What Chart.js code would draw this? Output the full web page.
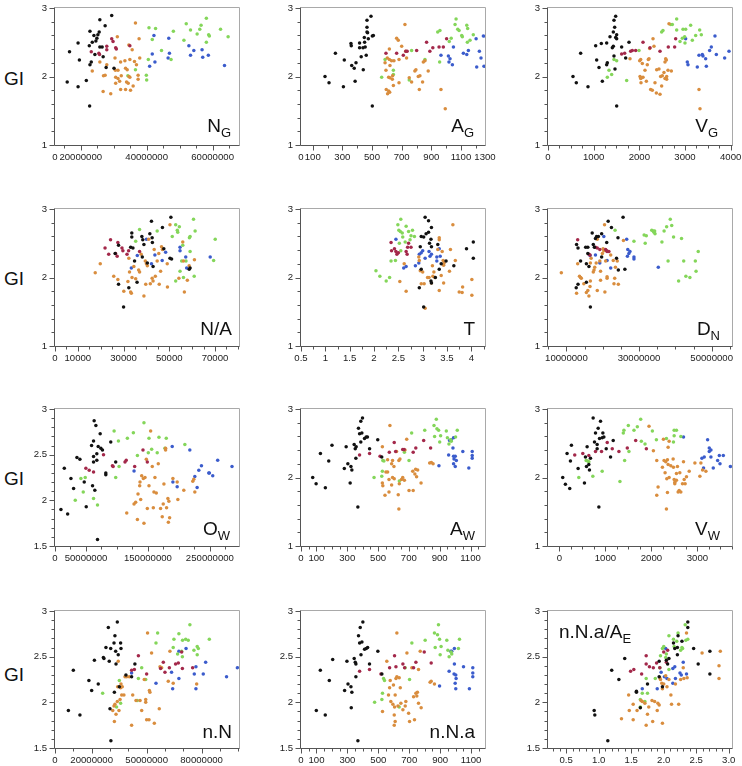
<!DOCTYPE html>
<html>
<head>
<meta charset="utf-8">
<script src="https://cdn.jsdelivr.net/npm/chart.js@4"></script>
<style>
  body { margin: 0; background: #fff; width: 742px; height: 766px; overflow: hidden; position: relative;
         font-family: "Liberation Sans", Arial, Helvetica, sans-serif; color: #111; }
  canvas { position: absolute; }
  .gi { position: absolute; left: 4px; font-size: 19px; line-height: 19px; }
  .lab { position: absolute; font-size: 19px; line-height: 19px; white-space: nowrap; }
  .lab span { position: relative; top: 5px; font-size: 13px; }
</style>
</head>
<body>
<div class="gi" style="top:69px">GI</div>
<div class="gi" style="top:269px">GI</div>
<div class="gi" style="top:469px">GI</div>
<div class="gi" style="top:665px">GI</div>

<script>
// ---- data: [x, GI] per group, per panel ----
const ngBlack = [[15.9e6,1.92],[16.6e6,2.36],[19.2e6,2.49],[19.6e6,2.24],[19.2e6,1.85],[21.7e6,1.94],[22.8e6,2.66],[25.8e6,2.83],[25.6e6,2.65],[25.2e6,2.61],[24.0e6,2.60],[23.5e6,2.50],[22.6e6,2.45],[24.9e6,2.56],[24.6e6,2.52],[25.8e6,2.43],[26.5e6,2.43],[27.4e6,2.74],[29.4e6,2.89],[24.3e6,2.32],[26.8e6,2.29],[23.2e6,2.21],[22.8e6,2.17],[27.7e6,2.13],[30.1e6,2.12],[22.7e6,1.57]];
const ngRed = [[23.2e6,2.36],[25.5e6,2.34],[25.7e6,2.32],[27.9e6,2.44],[27.9e6,2.39],[29.4e6,2.55],[29.8e6,2.51],[30.6e6,2.42],[30.8e6,2.40],[34.9e6,2.45]];
const ngOrange = [[36.6e6,2.78],[31.1e6,2.58],[37.7e6,2.55],[35.6e6,2.39],[34.6e6,2.46],[25.8e6,2.21],[23.5e6,2.08],[27.9e6,2.17],[30.4e6,2.27],[32.1e6,2.21],[33.4e6,2.23],[34.9e6,2.25],[36.3e6,2.22],[37.9e6,2.27],[36.9e6,2.17],[30.5e6,2.09],[31.3e6,2.09],[33.6e6,2.12],[34.1e6,2.10],[27.4e6,2.02],[26.9e6,2.01],[30.6e6,1.99],[31.3e6,1.97],[32.3e6,2.01],[34.6e6,2.0],[34.9e6,1.99],[33.9e6,1.92],[34.4e6,1.90],[31.8e6,1.93],[30.6e6,1.90],[37.4e6,2.02],[37.4e6,1.96],[35.9e6,1.86],[32.1e6,1.81],[33.6e6,1.81],[35.1e6,1.80],[26.8e6,1.78],[29.1e6,1.75]];
const ngGreen = [[40.7e6,2.71],[42.7e6,2.70],[41.7e6,2.54],[48.1e6,2.66],[44.5e6,2.38],[47.4e6,2.25],[36.6e6,2.10],[40.5e6,2.25],[39.9e6,2.02],[40.0e6,1.95],[34.3e6,2.01],[52.0e6,2.77],[53.3e6,2.68],[51.3e6,2.53],[55.3e6,2.62],[56.1e6,2.69],[56.5e6,2.75],[58.1e6,2.85],[58.1e6,2.50],[58.8e6,2.61],[59.0e6,2.59],[62.4e6,2.69],[64.7e6,2.58]];
const ngBlue = [[42.2e6,2.60],[41.7e6,2.33],[42.5e6,2.21],[40.9e6,2.15],[46.7e6,2.56],[46.9e6,2.34],[46.5e6,2.27],[52.8e6,2.45],[54.3e6,2.38],[53.3e6,2.31],[56.8e6,2.39],[57.0e6,2.28],[58.7e6,2.31],[63.6e6,2.16]];

const agBlack = [[183,2.0],[210,1.91],[253,2.34],[313,2.24],[307,1.85],[358,2.48],[360,2.45],[363,2.16],[380,2.12],[392,2.2],[386,1.93],[416,2.49],[416,2.42],[427,2.29],[439,2.42],[448,2.57],[450,2.5],[441,2.1],[454,2.43],[461,2.31],[466,2.72],[466,2.65],[470,2.64],[466,2.82],[493,2.88],[475,2.55],[502,2.59],[509,2.6],[502,1.57]];
const agRed = [[594,2.34],[666,2.34],[711,2.31],[728,2.37],[737,2.37],[801,2.38],[868,2.5],[890,2.37],[910,2.42],[952,2.43],[981,2.43],[1003,2.55]];
const agOrange = [[588,2.2],[594,2.09],[603,2.27],[617,2.4],[617,2.25],[632,2.23],[648,2.23],[621,2.16],[612,1.99],[621,1.98],[639,2.01],[637,1.96],[644,1.87],[596,1.81],[605,1.75],[612,1.79],[619,1.77],[666,2.56],[677,2.53],[682,2.25],[682,1.91],[700,2.44],[722,2.76],[727,2.37],[733,2.27],[751,1.98],[767,1.92],[789,2.08],[796,2.1],[812,2.0],[819,1.81],[823,2.01],[841,1.92],[846,2.21],[857,2.23],[879,2.08],[965,1.81],[994,1.53]];
const agGreen = [[565,1.99],[588,2.25],[644,2.09],[644,2.03],[751,1.95],[767,2.38],[857,2.25],[943,2.65],[958,2.67],[956,2.21],[1021,2.51],[1034,2.56],[1060,2.76],[1067,2.84],[1078,2.69],[1087,2.67],[1105,2.6],[1109,2.58],[1139,2.75],[1145,2.7],[1143,2.5],[1161,2.53],[1183,2.61]];
const agBlue = [[965,2.31],[1015,2.3],[1019,2.21],[1026,2.26],[1042,2.17],[1049,2.43],[1116,2.34],[1139,2.32],[1150,2.38],[1202,2.55],[1206,2.14],[1224,2.37],[1235,2.27],[1251,2.59],[1255,2.15]];

const vgBlack = [[547,2.0],[620,1.91],[715,2.34],[876,1.85],[1044,2.45],[1066,2.24],[1117,2.13],[1168,2.48],[1190,1.93],[1285,2.49],[1299,2.2],[1285,2.17],[1358,2.58],[1409,2.42],[1431,2.65],[1431,2.44],[1445,2.82],[1460,2.72],[1467,2.11],[1482,2.88],[1482,2.57],[1504,2.61],[1504,2.55],[1504,1.57],[1613,2.43],[1701,2.27],[1774,2.5],[1445,2.3]];
const vgRed = [[1613,2.33],[1679,2.34],[1810,2.37],[1847,2.38],[1920,2.38],[2081,2.5],[2234,2.42],[2453,2.37],[2635,2.43],[2774,2.43],[2796,2.55]];
const vgOrange = [[1796,2.26],[2008,2.23],[2030,2.25],[2066,2.19],[2015,2.0],[2030,1.97],[2052,1.98],[2081,1.99],[2037,1.91],[2124,2.09],[2154,1.93],[2175,2.17],[2197,2.25],[2212,2.26],[2227,2.41],[2248,1.81],[2285,1.8],[2321,2.44],[2300,2.55],[2343,1.91],[2380,2.1],[2373,1.76],[2431,2.11],[2453,1.74],[2467,2.0],[2489,1.86],[2504,2.01],[2540,2.06],[2562,2.21],[2562,1.97],[2577,2.26],[2592,2.24],[2599,2.0],[2599,1.96],[2628,2.09],[2650,2.77],[2701,2.08],[3307,1.81],[3329,1.53]];
const vgGreen = [[1299,1.99],[1336,2.09],[1394,2.03],[1445,2.25],[1504,2.23],[1723,1.94],[1993,2.38],[2489,2.65],[2518,2.67],[2687,2.76],[2723,2.76],[2818,2.84],[2818,2.68],[2891,2.51],[2942,2.56],[2957,2.69],[2993,2.58],[3000,2.49],[3015,2.69],[3124,2.75],[3161,2.53],[3234,2.6],[3322,2.68],[3358,2.61]];
const vgBlue = [[3015,2.55],[3051,2.21],[3066,2.17],[3270,2.14],[3307,2.31],[3380,2.32],[3394,2.3],[3453,2.26],[3468,2.15],[3540,2.38],[3577,2.43],[3657,2.59],[3687,2.32],[3869,2.27],[3964,2.37]];

const naBlack = [[27800,1.9],[30000,1.57],[32300,1.85],[26300,2.35],[27800,2.47],[33100,2.44],[33600,2.65],[33600,2.59],[34100,2.43],[34800,2.24],[35900,1.93],[38000,2.6],[38400,2.55],[38900,2.48],[38200,2.3],[40400,2.21],[41500,2.64],[42200,2.82],[42500,2.58],[42600,2.51],[42900,2.16],[47000,2.73],[47600,2.42],[50700,2.88],[50300,2.28],[51000,2.27],[58700,2.12],[59100,2.14]];
const naRed = [[21900,2.43],[23500,2.34],[24300,2.55],[26500,2.35],[27200,2.31],[27500,2.51],[29300,2.43],[29700,2.39],[31500,2.34],[32200,2.39],[37000,2.38]];
const naOrange = [[17600,2.07],[19800,2.2],[25700,2.02],[27500,1.97],[30100,1.8],[31900,1.94],[32300,2.28],[32600,2.08],[33100,1.79],[33400,1.77],[33700,2.0],[34500,2.16],[35300,1.98],[36600,2.11],[37000,2.08],[37700,2.34],[38900,1.73],[39500,2.24],[39700,1.9],[40000,2.2],[40400,2.17],[41000,2.56],[41700,1.91],[42500,1.99],[42900,1.95],[43400,2.41],[43900,2.02],[44700,2.24],[45400,2.35],[45600,1.9],[46200,2.09],[46600,2.45],[47000,2.41],[49100,2.2],[49200,1.86],[50300,2.77],[54200,1.99],[55900,2.52],[56200,2.24],[56600,1.79],[57900,1.96],[58700,2.17],[61000,2.26]];
const naGreen = [[35300,2.53],[37000,2.7],[44700,2.68],[51300,2.6],[52800,2.77],[53500,2.69],[53700,2.66],[54400,2.74],[54700,2.09],[55900,2.47],[55400,2.24],[56200,2.0],[57300,2.24],[58800,2.58],[59100,2.6],[59100,2.38],[60600,2.85],[60900,2.02],[61300,2.68],[69400,2.25],[70100,2.56],[52800,1.95]];
const naBlue = [[33400,2.14],[36000,2.32],[40000,2.56],[42200,2.2],[43700,2.33],[46900,2.25],[48400,2.37],[54700,2.44],[54700,2.39],[57200,2.3],[57600,2.14],[67900,2.3]];

const tBlack = [[2.93,1.85],[2.97,2.12],[2.95,2.45],[2.97,2.6],[3.02,2.59],[3.05,2.88],[3.07,2.64],[3.12,2.66],[3.12,2.83],[3.14,2.5],[3.17,2.56],[3.18,2.73],[3.18,2.45],[3.02,1.57],[3.17,1.95],[3.18,1.92],[3.26,2.0],[3.31,2.48],[3.34,2.12],[3.38,2.2],[3.48,2.24],[3.64,2.17],[3.9,2.42],[4.04,2.28],[4.04,2.52]];
const tRed = [[2.35,2.51],[2.36,2.39],[2.42,2.42],[2.45,2.38],[2.47,2.34],[2.5,2.36],[2.66,2.38],[2.68,2.34],[2.69,2.44],[2.76,2.44],[2.71,2.5]];
const tOrange = [[2.53,1.94],[2.62,2.2],[2.66,1.8],[2.92,2.3],[2.93,2.25],[2.95,2.1],[2.97,1.91],[3.0,2.08],[3.03,1.91],[3.05,1.55],[3.13,2.0],[3.2,2.17],[3.21,2.02],[3.23,2.08],[3.25,2.0],[3.31,2.41],[3.34,2.55],[3.34,2.58],[3.34,1.81],[3.38,2.03],[3.4,2.38],[3.42,2.25],[3.43,2.18],[3.44,2.21],[3.43,1.92],[3.55,2.09],[3.57,2.41],[3.62,2.77],[3.67,2.25],[3.75,1.79],[3.81,1.78],[3.82,1.86],[4.01,1.97],[4.01,1.74],[3.1,2.0],[3.18,1.92]];
const tGreen = [[2.04,2.1],[2.12,2.02],[2.25,1.95],[2.32,2.0],[2.35,2.24],[2.44,2.25],[2.49,2.77],[2.51,2.69],[2.54,2.67],[2.55,2.85],[2.58,2.65],[2.52,2.5],[2.55,2.39],[2.59,2.59],[2.64,2.52],[2.66,2.75],[2.71,2.67],[2.74,2.55],[2.76,2.61],[2.79,2.69],[2.83,2.6]];
const tBlue = [[2.45,2.56],[2.61,2.14],[2.66,2.16],[2.85,2.17],[2.92,2.21],[2.93,2.34],[2.97,2.36],[3.0,2.39],[3.05,2.28],[3.13,2.38],[3.15,2.31],[3.18,2.34],[3.29,2.3],[3.29,2.24],[3.34,2.42],[3.36,2.31]];

const dnBlack = [[12.8e6,2.48],[13.2e6,2.43],[12.7e6,1.85],[13.2e6,1.9],[13.9e6,2.24],[15.3e6,2.44],[15.5e6,2.2],[15.9e6,2.35],[15.9e6,2.44],[16.2e6,2.16],[16.6e6,1.57],[17.1e6,2.65],[17.4e6,2.48],[17.7e6,2.44],[18.0e6,2.57],[18.3e6,2.6],[18.8e6,2.6],[19.7e6,2.64],[19.7e6,2.3],[21.1e6,2.51],[21.5e6,2.82],[22.4e6,2.73],[23.8e6,2.28],[24.2e6,2.58],[24.3e6,2.11],[25.6e6,2.88],[26.1e6,2.12],[15.5e6,1.93]];
const dnRed = [[13.1e6,2.55],[16.2e6,2.34],[16.5e6,2.33],[18.0e6,2.44],[18.5e6,2.43],[19.2e6,2.41],[20.8e6,2.41],[21.1e6,2.39],[21.2e6,2.38],[21.7e6,2.38]];
const dnOrange = [[8.6e6,2.07],[12.8e6,1.77],[13.1e6,2.2],[13.6e6,2.02],[13.9e6,2.0],[14.1e6,1.99],[14.8e6,1.91],[15.5e6,1.78],[15.9e6,1.81],[16.2e6,1.73],[16.5e6,1.87],[16.6e6,1.95],[16.6e6,2.21],[16.8e6,2.28],[17.4e6,2.08],[17.6e6,2.11],[17.8e6,2.15],[18.2e6,2.21],[18.5e6,1.81],[18.5e6,2.56],[19.2e6,2.24],[19.4e6,2.09],[19.4e6,1.96],[19.9e6,2.35],[20.1e6,2.42],[20.3e6,2.39],[20.5e6,2.77],[20.6e6,1.79],[20.8e6,2.24],[21.2e6,2.01],[21.2e6,1.99],[22.2e6,2.33],[22.9e6,2.25],[23.1e6,1.91],[23.3e6,1.99],[23.5e6,2.15],[24.0e6,2.24],[24.3e6,1.9],[25.7e6,2.54]];
const dnGreen = [[23.4e6,2.69],[28.6e6,2.53],[31.4e6,2.62],[31.7e6,2.5],[32.0e6,2.61],[33.5e6,2.69],[33.9e6,2.68],[34.1e6,2.66],[34.3e6,2.68],[34.4e6,2.64],[36.3e6,2.52],[36.9e6,2.68],[37.6e6,2.74],[38.0e6,2.24],[38.6e6,2.85],[39.0e6,2.76],[39.5e6,2.59],[40.9e6,1.95],[41.7e6,2.57],[42.3e6,2.24],[42.9e6,2.02],[44.0e6,2.0],[45.5e6,2.24],[45.7e6,2.09],[46.3e6,2.38]];
const dnBlue = [[16.5e6,2.32],[18.0e6,2.33],[19.2e6,2.21],[20.3e6,2.6],[21.2e6,2.25],[22.2e6,2.14],[26.6e6,2.56],[26.9e6,2.41],[27.2e6,2.35],[27.5e6,2.38],[26.8e6,2.31],[28.6e6,2.3],[28.6e6,2.27],[35.3e6,2.15]];

const owBlack = [[9.6e6,1.9],[15e6,2.35],[20.4e6,1.85],[25.7e6,2.24],[30e6,2.13],[35.4e6,2.47],[40.2e6,2.45],[47.2e6,2.2],[50.4e6,1.93],[59e6,2.6],[60.6e6,2.16],[62.2e6,2.65],[62.2e6,2.42],[62.2e6,2.48],[63.2e6,2.87],[64.3e6,2.11],[66e6,2.82],[67.5e6,2.44],[67.5e6,2.51],[69.7e6,2.59],[72.9e6,2.73],[74e6,2.57],[76.6e6,2.55],[68.6e6,1.57],[82e6,2.28],[82e6,2.3],[90e6,2.64],[98e6,2.42]];
const owRed = [[49.8e6,2.35],[55.2e6,2.33],[62.2e6,2.31],[78.3e6,2.5],[92.7e6,2.38],[93.8e6,2.37],[113e6,2.42],[115e6,2.44],[128.6e6,2.37],[142e6,2.55],[149e6,2.42]];
const owOrange = [[115.8e6,1.86],[127.6e6,1.96],[130.2e6,1.98],[133e6,1.79],[134e6,2.07],[136.7e6,2.16],[137.2e6,2.2],[138.3e6,2.01],[139.9e6,2.27],[142.6e6,2.24],[143.6e6,1.75],[145.3e6,2.25],[147.4e6,2.45],[149e6,1.91],[151.7e6,2.16],[154.4e6,2.76],[157e6,2.37],[158.7e6,1.92],[159.7e6,2.09],[161.3e6,2.25],[163.5e6,2.08],[166.7e6,2.4],[170.4e6,1.91],[173.1e6,1.82],[174.7e6,1.96],[175.8e6,2.18],[178.5e6,2.57],[178.5e6,2.55],[180.1e6,1.92],[182.2e6,2.02],[183.8e6,1.99],[183e6,1.76],[185e6,1.81],[190.3e6,2.24],[197.2e6,2.2],[198.3e6,2.01],[207.9e6,2.11],[222.4e6,2.21],[224e6,2.23],[225.7e6,2.09]];
const owGreen = [[32.7e6,2.0],[41.8e6,2.24],[45.6e6,2.09],[48.8e6,2.25],[62.2e6,2.02],[68.6e6,1.95],[95.4e6,2.76],[98e6,2.25],[102.4e6,2.65],[103.4e6,2.37],[116.8e6,2.68],[126.5e6,2.74],[133e6,2.49],[143.6e6,2.85],[150.6e6,2.52],[151.7e6,2.68],[156e6,2.56],[165e6,2.52],[167.8e6,2.69],[177.4e6,2.57],[179.6e6,2.68],[209.6e6,2.61]];
const owBlue = [[127.6e6,2.32],[189.2e6,2.59],[190.3e6,2.2],[197.2e6,2.15],[217.6e6,2.55],[225.7e6,2.26],[229.4e6,2.14],[232.1e6,2.33],[236.4e6,2.38],[248.2e6,2.3],[249.2e6,2.3],[254.6e6,2.27],[262.6e6,2.44],[285.7e6,2.37]];

const awBlack = [[76,2.0],[98,1.91],[126,2.35],[158,1.85],[180,2.24],[201,2.47],[281,2.13],[293,2.45],[304,2.2],[319,1.92],[324,2.16],[330,2.11],[345,2.48],[352,2.42],[356,2.28],[358,2.45],[369,1.57],[373,2.72],[380,2.64],[388,2.52],[388,2.82],[395,2.65],[399,2.87],[412,2.57],[423,2.59],[431,2.59],[445,2.42],[498,2.55],[524,2.3]];
const awRed = [[380,2.33],[445,2.35],[513,2.31],[573,2.37],[605,2.51],[614,2.38],[660,2.41],[669,2.41],[728,2.37],[745,2.43],[796,2.54],[841,2.43]];
const awOrange = [[528,2.45],[528,1.92],[531,1.88],[545,1.74],[551,2.08],[562,2.08],[562,2.26],[571,1.79],[571,1.97],[577,2.76],[588,1.89],[588,2.2],[594,2.25],[594,2.0],[603,2.16],[605,1.98],[620,2.38],[631,1.75],[635,1.54],[635,2.25],[638,1.91],[642,2.27],[652,1.97],[660,2.0],[671,1.96],[675,2.4],[686,2.56],[701,1.81],[725,2.09],[728,1.81],[739,2.05],[744,2.12],[750,2.01],[757,2.11],[779,1.92],[835,2.21],[846,2.22],[857,2.2]];
const awGreen = [[474,2.0],[524,2.02],[528,2.09],[531,2.25],[538,2.24],[638,1.95],[671,2.37],[701,2.25],[718,2.65],[803,2.69],[863,2.76],[867,2.6],[878,2.85],[882,2.71],[893,2.69],[900,2.52],[906,2.61],[943,2.68],[950,2.58],[960,2.49],[971,2.55],[975,2.53],[1003,2.59],[1014,2.69]];
const awBlue = [[895,2.17],[964,2.54],[975,2.55],[990,2.58],[986,2.43],[990,2.31],[993,2.27],[1001,2.31],[1001,2.16],[1008,2.25],[990,2.2],[1050,2.38],[1089,2.14],[1111,2.38],[1111,2.32],[1111,2.28],[958,2.33]];

const vwBlack = [[73,2.0],[131,1.9],[167,2.35],[225,1.84],[240,2.24],[262,2.47],[407,2.13],[545,1.92],[567,2.3],[589,2.16],[603,2.45],[640,2.19],[654,2.11],[676,2.28],[734,2.87],[763,2.52],[785,2.65],[821,2.48],[821,2.42],[843,2.72],[872,2.57],[894,2.82],[930,2.58],[945,2.65],[967,2.59],[1018,2.42],[1112,2.3],[1170,2.54],[858,1.57]];
const vwRed = [[334,2.33],[509,2.35],[640,2.32],[785,2.38],[916,2.38],[1040,2.51],[1149,2.42],[1294,2.38],[1476,2.43],[1658,2.54],[1890,2.42]];
const vwOrange = [[1948,2.75],[2043,2.39],[2116,2.25],[2116,1.74],[2145,1.86],[2239,2.15],[2261,2.56],[2275,2.25],[2297,2.07],[2312,2.23],[2326,1.54],[2334,1.98],[2348,1.78],[2348,2.26],[2363,2.19],[2385,2.0],[2385,2.53],[2363,2.44],[2421,2.17],[2472,2.27],[2479,2.15],[2494,1.97],[2508,1.91],[2508,1.93],[2544,1.96],[2544,2.06],[2566,2.16],[2581,1.79],[2603,1.81],[2617,2.07],[2639,1.79],[2675,1.91],[2697,2.23],[2712,1.97],[2733,1.91],[2762,2.01],[2821,2.09],[2945,2.21],[3053,2.02],[3112,2.11],[3184,2.09],[3075,2.21]];
const vwGreen = [[422,2.0],[582,2.25],[618,2.24],[640,2.23],[727,2.02],[930,2.09],[1316,1.94],[1389,2.65],[1403,2.69],[1418,2.25],[1498,2.76],[1512,2.38],[1621,2.69],[1694,2.74],[1767,2.85],[1781,2.53],[1861,2.49],[2021,2.68],[2108,2.55],[2326,2.57],[2494,2.69],[2544,2.69],[2494,2.61],[2479,2.52],[2639,2.6]];
const vwBlue = [[2697,2.59],[3097,2.28],[3148,2.3],[3133,2.14],[3221,2.55],[3257,2.43],[3257,2.38],[3293,2.4],[3293,2.3],[3344,2.14],[3439,2.25],[3475,2.32],[3490,2.2],[3562,2.32],[3715,2.16]];

const nnBlack = [[7.3e6,1.91],[10e6,2.35],[13.6e6,1.86],[18.5e6,2.24],[20e6,2.13],[21.5e6,2.46],[23.6e6,2.2],[26.4e6,2.49],[26.7e6,2.48],[27.8e6,2.6],[29.1e6,2.82],[29.6e6,2.45],[30e6,1.93],[30.4e6,2.59],[30.5e6,1.58],[32.2e6,2.65],[32.4e6,2.11],[32.7e6,2.73],[33.1e6,2.56],[33.3e6,2.42],[34e6,2.88],[34.5e6,2.52],[35.1e6,2.17],[35.8e6,2.65],[36e6,2.59],[38.7e6,2.3],[41.8e6,2.28],[43.6e6,2.42]];
const nnRed = [[41.8e6,2.35],[43.3e6,2.36],[45.5e6,2.51],[50e6,2.31],[57.6e6,2.37],[59.1e6,2.44],[60e6,2.33],[62.4e6,2.38],[65.8e6,2.42],[67.3e6,2.43],[69.1e6,2.55],[69.5e6,2.37],[75.1e6,2.38]];
const nnOrange = [[31.5e6,1.91],[32.2e6,1.96],[32.7e6,1.98],[32.4e6,1.79],[33.3e6,1.87],[34e6,2.01],[34.2e6,2.17],[34.5e6,2.45],[34.9e6,1.91],[35.5e6,2.03],[35.8e6,2.16],[36e6,2.2],[36.4e6,2.08],[36.7e6,2.17],[37.6e6,2.08],[38.2e6,2.28],[39.1e6,2.28],[40.5e6,2.28],[41.8e6,1.75],[42.4e6,2.08],[44.2e6,2.02],[46.4e6,2.02],[47.3e6,1.91],[48.7e6,2.25],[49.5e6,2.0],[49.5e6,2.03],[50e6,1.81],[50.5e6,2.76],[51.3e6,1.81],[51.5e6,2.13],[51.8e6,2.11],[52.7e6,2.54],[54.2e6,1.77],[56.9e6,1.93],[57.3e6,2.39],[58.2e6,2.38],[61.8e6,2.23],[62.7e6,2.56],[64.5e6,2.21],[77.3e6,2.2]];
const nnGreen = [[26e6,2.1],[33.6e6,1.95],[35.1e6,2.24],[35.8e6,1.99],[44.9e6,2.02],[47.3e6,2.38],[45.5e6,2.26],[49.5e6,2.25],[55.1e6,2.65],[56e6,2.76],[64.5e6,2.6],[64.9e6,2.69],[66.9e6,2.53],[67.6e6,2.75],[69.1e6,2.56],[69.5e6,2.5],[69.6e6,2.68],[71.3e6,2.69],[72.7e6,2.68],[73.6e6,2.85],[75.8e6,2.57],[77.6e6,2.61],[78.2e6,2.59],[77.6e6,2.52],[84.2e6,2.69]];
const nnBlue = [[41.8e6,2.32],[55.1e6,2.21],[63.6e6,2.33],[64.2e6,2.15],[67.6e6,2.26],[67.6e6,2.56],[71.5e6,2.59],[76e6,2.31],[76.9e6,2.15],[76.9e6,2.39],[80.9e6,2.31],[82.2e6,2.44],[93.6e6,2.28],[99.5e6,2.38]];

const nnaBlack = [[99,1.91],[125,2.35],[157,1.86],[183,2.24],[205,2.47],[282,2.13],[297,2.45],[304,2.2],[323,2.17],[329,2.11],[325,1.94],[344,2.48],[351,2.44],[355,2.42],[355,2.28],[368,1.58],[372,2.73],[379,2.65],[383,2.82],[388,2.52],[394,2.66],[400,2.88],[411,2.58],[422,2.59],[431,2.6],[443,2.42],[497,2.56],[523,2.31]];
const nnaRed = [[379,2.34],[443,2.36],[517,2.31],[573,2.38],[605,2.51],[614,2.39],[659,2.42],[670,2.38],[728,2.38],[743,2.44],[797,2.55],[842,2.43]];
const nnaOrange = [[527,1.9],[555,2.45],[566,2.08],[573,2.16],[577,2.24],[581,2.01],[594,1.98],[598,2.19],[603,1.75],[609,1.79],[603,1.86],[605,1.95],[609,2.08],[614,2.26],[620,2.28],[627,1.96],[635,2.27],[642,2.16],[646,1.99],[659,1.92],[674,1.96],[678,2.01],[685,2.54],[696,1.88],[702,1.79],[717,2.38],[728,2.06],[734,1.81],[743,2.1],[749,2.07],[753,2.11],[760,1.99],[777,1.94],[771,2.56],[835,2.22],[842,2.23],[863,2.2],[620,2.76],[760,2.36]];
const nnaGreen = [[476,2.0],[523,2.03],[527,2.1],[534,2.26],[540,2.24],[635,1.95],[674,2.38],[702,2.25],[717,2.65],[803,2.68],[863,2.76],[868,2.6],[889,2.85],[883,2.74],[896,2.69],[900,2.52],[906,2.61],[943,2.68],[950,2.57],[958,2.5],[971,2.55],[975,2.53],[1018,2.59],[1025,2.69]];
const nnaBlue = [[896,2.18],[958,2.34],[969,2.56],[975,2.56],[992,2.59],[992,2.42],[990,2.31],[997,2.21],[1001,2.3],[1003,2.26],[1001,2.15],[1051,2.39],[1089,2.15],[1111,2.38],[1111,2.32],[1111,2.28]];

const raBlack = [[0.93,1.91],[0.94,1.86],[1.14,1.58],[1.2,2.35],[1.31,2.25],[1.4,2.48],[1.58,2.12],[1.58,2.11],[1.64,1.94],[1.75,2.2],[1.93,2.45],[1.93,2.28],[1.98,2.17],[2.04,2.46],[2.06,2.42],[2.08,2.48],[2.15,2.65],[2.17,2.59],[2.21,2.6],[2.21,2.52],[2.22,2.73],[2.28,2.67],[2.37,2.88],[2.37,2.82],[2.46,2.59],[2.53,2.42],[2.71,2.56],[2.71,2.31]];
const raRed = [[1.49,2.34],[1.54,2.36],[1.66,2.31],[1.73,2.51],[1.73,2.42],[1.78,2.39],[1.84,2.38],[1.89,2.43],[1.94,2.38],[2.0,2.55],[2.04,2.44],[2.06,2.57]];
const raOrange = [[1.35,1.82],[1.46,2.08],[1.47,1.91],[1.53,1.98],[1.53,1.81],[1.59,1.91],[1.65,2.02],[1.67,2.01],[1.71,1.99],[1.73,1.75],[1.75,1.87],[1.77,1.95],[1.82,2.02],[1.83,1.79],[1.86,2.01],[1.9,1.91],[1.91,1.99],[1.93,1.97],[1.94,2.27],[1.95,2.25],[1.97,2.21],[1.98,2.15],[1.98,1.77],[2.0,2.2],[2.03,2.29],[2.05,2.17],[2.08,2.25],[2.11,2.08],[2.12,1.98],[2.18,2.2],[2.23,1.98],[2.26,2.25],[2.3,2.38],[2.31,2.26],[2.35,2.76],[2.36,2.27],[2.59,2.54],[2.87,2.56],[2.85,2.4],[2.85,2.26]];
const raGreen = [[1.64,2.03],[1.67,2.1],[1.71,2.01],[1.73,2.26],[1.75,2.1],[1.64,1.95],[1.87,2.26],[1.94,2.38],[1.95,2.51],[1.98,2.59],[2.0,2.61],[2.03,2.49],[2.04,2.53],[2.08,2.73],[2.08,2.36],[2.15,2.69],[2.16,2.61],[2.2,2.67],[2.22,2.76],[2.26,2.57],[2.29,2.59],[2.33,2.85],[2.34,2.68],[2.37,2.69],[2.28,2.6]];
const raBlue = [[1.67,2.15],[1.9,2.15],[1.96,2.33],[2.01,2.28],[2.05,2.26],[2.03,2.59],[2.14,2.37],[2.17,2.39],[2.14,2.21],[2.18,2.26],[2.25,2.32],[2.27,2.3],[2.3,2.44],[2.35,2.31]];

// GI axes
const giTicks13 = [1, 2, 3];
const giTicks153 = [1.5, 2, 2.5, 3];

const colors = ['#111111', '#a3284a', '#d98d3e', '#84d65a', '#3b5ccc'];

// panel list: x axis range, labelled ticks, tick texts, minor step
const panels = [
  { col: 0, row: 0, groups: [ngBlack, ngRed, ngOrange, ngGreen, ngBlue], xMin: 12.2e6, xMax: 68e6,
    xTicks: [12.2e6, 20e6, 40e6, 60e6], xText: ['0', '20000000', '40000000', '60000000'], xStep: 5e6,
    y: giTicks13, lab: 'N', sub: 'G', right: 511 },
  { col: 1, row: 0, groups: [agBlack, agRed, agOrange, agGreen, agBlue], xMin: 21, xMax: 1262,
    xTicks: [21, 100, 300, 500, 700, 900, 1100, 1262], xText: ['0', '100', '300', '500', '700', '900', '1100', '1300'], xStep: 100,
    y: giTicks13, lab: 'A', sub: 'G', right: 268 },
  { col: 2, row: 0, groups: [vgBlack, vgRed, vgOrange, vgGreen, vgBlue], xMin: 0, xMax: 4030,
    xTicks: [0, 1000, 2000, 3000, 4000], xStep: 250, y: giTicks13, lab: 'V', sub: 'G', right: 24 },
  { col: 0, row: 1, groups: [naBlack, naRed, naOrange, naGreen, naBlue], xMin: 0, xMax: 80500,
    xTicks: [0, 10000, 30000, 50000, 70000], xStep: 5000, y: giTicks13, lab: 'N/A', right: 510 },
  { col: 1, row: 1, groups: [tBlack, tRed, tOrange, tGreen, tBlue], xMin: 0.5, xMax: 4.28,
    xTicks: [0.5, 1, 1.5, 2, 2.5, 3, 3.5, 4], xStep: 0.25, y: giTicks13, lab: 'T', right: 267 },
  { col: 2, row: 1, groups: [dnBlack, dnRed, dnOrange, dnGreen, dnBlue], xMin: 4.93e6, xMax: 55.6e6,
    xTicks: [10e6, 30e6, 50e6], xStep: 5e6, y: giTicks13, lab: 'D', sub: 'N', right: 22 },
  { col: 0, row: 2, groups: [owBlack, owRed, owOrange, owGreen, owBlue], xMin: 0, xMax: 297e6,
    xTicks: [0, 50e6, 150e6, 250e6], xStep: 25e6, y: giTicks153, lab: 'O', sub: 'W', right: 512 },
  { col: 1, row: 2, groups: [awBlack, awRed, awOrange, awGreen, awBlue], xMin: 0, xMax: 1194,
    xTicks: [0, 100, 300, 500, 700, 900, 1100], xStep: 50, y: giTicks13, lab: 'A', sub: 'W', right: 267 },
  { col: 2, row: 2, groups: [vwBlack, vwRed, vwOrange, vwGreen, vwBlue], xMin: -247, xMax: 3751,
    xTicks: [0, 1000, 2000, 3000], xStep: 250, y: giTicks13, lab: 'V', sub: 'W', right: 22 },
  { col: 0, row: 3, groups: [nnBlack, nnRed, nnOrange, nnGreen, nnBlue], xMin: 0, xMax: 100.4e6,
    xTicks: [0, 20e6, 50e6, 80e6], xStep: 10e6, y: giTicks153, lab: 'n.N', right: 510 },
  { col: 1, row: 3, groups: [nnaBlack, nnaRed, nnaOrange, nnaGreen, nnaBlue], xMin: 0, xMax: 1190,
    xTicks: [0, 100, 300, 500, 700, 900, 1100], xStep: 50, y: giTicks153, lab: 'n.N.a', right: 267 },
  { col: 2, row: 3, groups: [raBlack, raRed, raOrange, raGreen, raBlue], xMin: 0.22, xMax: 3.05,
    xTicks: [0.5, 1, 1.5, 2, 2.5, 3], xText: ['0.5', '1.0', '1.5', '2.0', '2.5', '3.0'], xStep: 0.1,
    y: giTicks153, lab: 'n.N.a/A', sub: 'E', left: 559, top: 622 }
];

const colLeft = [55, 301, 548];
const rowTop = [8, 209, 409, 611];
const labTop = [116, 319, 519, 722];
const PW = 184, PH = 137, YW = 34, XH = 22, PADT = 6, PADR = 14;

function steps(min, max, step) {
  const out = [];
  for (let k = Math.ceil(min / step - 1e-9); k * step <= max + 1e-9; k++) out.push(k * step);
  return out;
}

// frame with ticks (major longer than minor)
const frame = {
  id: 'frame',
  afterDatasetsDraw(chart, args, o) {
    const { ctx, chartArea: a, scales: { x, y } } = chart;
    ctx.save();
    ctx.lineWidth = 1;
    ctx.strokeStyle = '#a9a9a9';
    ctx.beginPath();
    ctx.moveTo(a.left - 0.5, a.top - 0.5);
    ctx.lineTo(a.right + 0.5, a.top - 0.5);
    ctx.lineTo(a.right + 0.5, a.bottom + 0.5);
    ctx.stroke();
    ctx.strokeStyle = '#555';
    ctx.beginPath();
    ctx.moveTo(a.left - 0.5, a.top - 0.5);
    ctx.lineTo(a.left - 0.5, a.bottom + 0.5);
    ctx.lineTo(a.right + 0.5, a.bottom + 0.5);
    steps(x.min, x.max, o.xStep).forEach(v => {
      const px = Math.round(x.getPixelForValue(v)) + 0.5;
      const len = o.xMajor.some(m => Math.abs(m - v) < o.xStep / 10) ? 5 : 3;
      ctx.moveTo(px, a.bottom + 0.5);
      ctx.lineTo(px, a.bottom + 0.5 + len);
    });
    steps(y.min, y.max, o.yStep).forEach(v => {
      const py = Math.round(y.getPixelForValue(v)) + 0.5;
      const len = o.yMajor.some(m => Math.abs(m - v) < o.yStep / 10) ? 5 : 3;
      ctx.moveTo(a.left - 0.5, py);
      ctx.lineTo(a.left - 0.5 - len, py);
    });
    ctx.stroke();
    ctx.restore();
  }
};

const tickFont = { family: '"Liberation Sans", Arial, sans-serif', size: 9.6 };

panels.forEach(p => {
  const cv = document.createElement('canvas');
  const w = YW + PW + PADR, h = PADT + PH + XH;
  cv.width = w; cv.height = h;
  cv.style.width = w + 'px'; cv.style.height = h + 'px';
  cv.style.left = (colLeft[p.col] - YW) + 'px';
  cv.style.top = (rowTop[p.row] - PADT) + 'px';
  document.body.appendChild(cv);

  const xText = p.xText || p.xTicks.map(String);
  const yMin = p.y[0], yMax = p.y[p.y.length - 1];

  new Chart(cv.getContext('2d'), {
    type: 'scatter',
    data: {
      datasets: p.groups.map((g, i) => ({
        data: g,
        backgroundColor: colors[i],
        borderWidth: 0,
        pointRadius: 1.75
      }))
    },
    options: {
      responsive: false,
      animation: false,
      layout: { padding: { top: PADT, right: PADR, left: 0, bottom: 0 } },
      plugins: {
        legend: { display: false },
        tooltip: { enabled: false },
        frame: { xStep: p.xStep, xMajor: p.xTicks, yStep: yMin === 1 ? 0.2 : 0.1, yMajor: p.y }
      },
      scales: {
        x: {
          type: 'linear', min: p.xMin, max: p.xMax,
          grid: { display: false, drawTicks: false },
          border: { display: false },
          afterBuildTicks: s => { s.ticks = p.xTicks.map(v => ({ value: v })); },
          ticks: { autoSkip: false, maxRotation: 0, padding: 7, color: '#222', font: tickFont,
                   callback: (v, i) => xText[i] },
          afterFit: s => { s.height = XH; s.paddingLeft = 0; s.paddingRight = 0; }
        },
        y: {
          type: 'linear', min: yMin, max: yMax,
          grid: { display: false, drawTicks: false },
          border: { display: false },
          afterBuildTicks: s => { s.ticks = p.y.map(v => ({ value: v })); },
          ticks: { autoSkip: false, padding: 8, color: '#222', font: tickFont,
                   callback: v => String(v) },
          afterFit: s => { s.width = YW; s.paddingTop = 0; s.paddingBottom = 0; }
        }
      }
    },
    plugins: [frame]
  });

  const d = document.createElement('div');
  d.className = 'lab';
  d.textContent = p.lab;
  if (p.sub) {
    const s = document.createElement('span');
    s.textContent = p.sub;
    d.appendChild(s);
  }
  if (p.left !== undefined) {
    d.style.left = p.left + 'px';
    d.style.top = p.top + 'px';
  } else {
    d.style.right = p.right + 'px';
    d.style.top = labTop[p.row] + 'px';
  }
  document.body.appendChild(d);
});
</script>
</body>
</html>
